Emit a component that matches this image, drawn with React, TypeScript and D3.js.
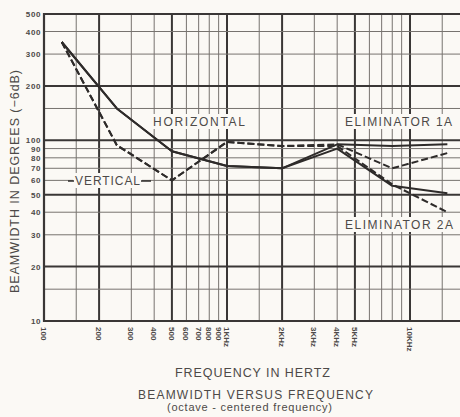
import React from "react";
import * as d3 from "d3";

// octave-centered frequencies (Hz)
const freqs = [125, 250, 500, 1000, 2000, 4000, 8000, 16000];
// beamwidth in degrees (-6dB)
const elim1AHorizontal = [350, 150, 87, 72, 70, 95, 93, 95];
const elim1AVertical = [350, 94, 60, 98, 93, 95, 70, 85];
const elim2AHorizontal = [350, 150, 87, 72, 70, 90, 56, 51];
const elim2AVertical = [350, 94, 60, 98, 93, 93, 57, 40];

const yTickValues = [10, 20, 30, 40, 50, 60, 70, 80, 90, 100, 200, 300, 400, 500];
const yGridValues = [10, 15, 20, 30, 40, 50, 60, 70, 80, 90, 100, 150, 200, 300, 400, 500];
const yThick = [10, 20, 50, 100, 200, 500];
const xGridValues = [100, 150, 200, 300, 400, 500, 600, 700, 800, 900, 1000, 1500, 2000, 3000, 4000, 5000, 6000, 7000, 8000, 9000, 10000, 15000, 20000];
const xThick = [100, 200, 500, 1000, 2000, 5000, 10000, 20000];
const xTickValues = [100, 200, 300, 400, 500, 600, 700, 800, 900, 1000, 2000, 3000, 4000, 5000, 10000, 20000];
const xTickLabels = ["100", "200", "300", "400", "500", "600", "700", "800", "900", "1KHz", "2KHz", "3KHz", "4KHz", "5KHz", "10KHz", "20KHz"];

const W = 460;
const H = 417;
const FONT = "'Liberation Sans', Arial, Helvetica, sans-serif";
const INK = "#2e2b2a";
const TEXT = "#4d4a48";

export default function App() {
  const x = d3.scaleLog().domain([100, 10000]).range([44, 410]);
  const y = d3.scaleLog().domain([10, 500]).range([321, 14]);
  const top = y(500);
  const bottom = y(10);
  const left = x(100);

  const line = d3
    .line<number>()
    .x((_, i) => x(freqs[i]))
    .y((d) => y(d))
    .curve(d3.curveLinear);

  return (
    <div style={{ position: "absolute", left: 0, top: 0 }}>
      <svg width={W} height={H} style={{ display: "block", background: "#fbf9f5" }}>
        <rect x={0} y={0} width={W} height={H} fill="#fbf9f5" />
        {/* vertical grid */}
        {xGridValues.map((f) => (
          <line
            key={"vx" + f}
            x1={x(f)}
            x2={x(f)}
            y1={top}
            y2={bottom}
            stroke={xThick.includes(f) ? "#3a3736" : "#77736f"}
            strokeWidth={xThick.includes(f) ? 2 : 1}
          />
        ))}
        {/* horizontal grid */}
        {yGridValues.map((v) => (
          <line
            key={"hy" + v}
            x1={left}
            x2={W}
            y1={y(v)}
            y2={y(v)}
            stroke={yThick.includes(v) ? "#3a3736" : "#77736f"}
            strokeWidth={yThick.includes(v) ? 2 : 1}
          />
        ))}
        <line x1={left} x2={left} y1={top - 1} y2={bottom + 1} stroke="#3a3736" strokeWidth={2.2} />

        {/* y tick labels */}
        {yTickValues.map((v) => (
          <text
            key={"yt" + v}
            x={41}
            y={y(v) + 3}
            textAnchor="end"
            fontFamily={FONT}
            fontWeight="bold"
            fontSize={8}
            letterSpacing={0.6}
            fill={TEXT}
          >
            {v}
          </text>
        ))}
        {/* x tick labels (rotated) */}
        {xTickValues.map((f, i) => (
          <text
            key={"xt" + f}
            transform={`translate(${x(f) - 3},${bottom + 6}) rotate(90)`}
            fontFamily={FONT}
            fontWeight="bold"
            fontSize={8}
            fill={TEXT}
          >
            {xTickLabels[i]}
          </text>
        ))}

        {/* series */}
        <path d={line(elim1AHorizontal) || ""} fill="none" stroke={INK} strokeWidth={2} strokeLinejoin="round" />
        <path d={line(elim2AHorizontal) || ""} fill="none" stroke={INK} strokeWidth={2} strokeLinejoin="round" />
        <path d={line(elim1AVertical) || ""} fill="none" stroke={INK} strokeWidth={2} strokeDasharray="7 3" strokeLinejoin="round" />
        <path d={line(elim2AVertical) || ""} fill="none" stroke={INK} strokeWidth={2} strokeDasharray="7 3" strokeLinejoin="round" />

        {/* in-plot labels */}
        <rect x={150} y={114} width={98} height={15} fill="#fbf9f5" />
        <text x={153} y={126} fontFamily={FONT} fontSize={12} fill={TEXT} textLength={92} lengthAdjust="spacing">
          HORIZONTAL
        </text>
        <rect x={73} y={173} width={69} height={15} fill="#fbf9f5" />
        <line x1={68} x2={74} y1={181} y2={181} stroke={INK} strokeWidth={1.5} />
        <line x1={141} x2={151} y1={181} y2={181} stroke={INK} strokeWidth={1.5} />
        <text x={75} y={185} fontFamily={FONT} fontSize={12} fill={TEXT} textLength={65} lengthAdjust="spacing">
          VERTICAL
        </text>
        <rect x={342} y={114} width={113} height={15} fill="#fbf9f5" />
        <text x={345} y={126} fontFamily={FONT} fontSize={12} fill={TEXT} textLength={107} lengthAdjust="spacing">
          ELIMINATOR 1A
        </text>
        <rect x={342} y={217} width={114} height={15} fill="#fbf9f5" />
        <text x={345} y={229} fontFamily={FONT} fontSize={12} fill={TEXT} textLength={108} lengthAdjust="spacing">
          ELIMINATOR 2A
        </text>

        {/* axis titles */}
        <text
          transform={`translate(19,293) rotate(-90)`}
          fontFamily={FONT}
          fontSize={12.5}
          fill={TEXT}
          textLength={223}
          lengthAdjust="spacing"
        >
          BEAMWIDTH IN DEGREES (−6dB)
        </text>
        <text x={175} y={377} fontFamily={FONT} fontSize={12.5} fill={TEXT} textLength={155} lengthAdjust="spacing">
          FREQUENCY IN HERTZ
        </text>
        <text x={138} y={399} fontFamily={FONT} fontSize={12} fill={TEXT} textLength={235} lengthAdjust="spacing">
          BEAMWIDTH VERSUS FREQUENCY
        </text>
        <text x={167} y={411} fontFamily={FONT} fontSize={11} fill={TEXT} textLength={165} lengthAdjust="spacing">
          (octave - centered frequency)
        </text>
      </svg>
    </div>
  );
}
